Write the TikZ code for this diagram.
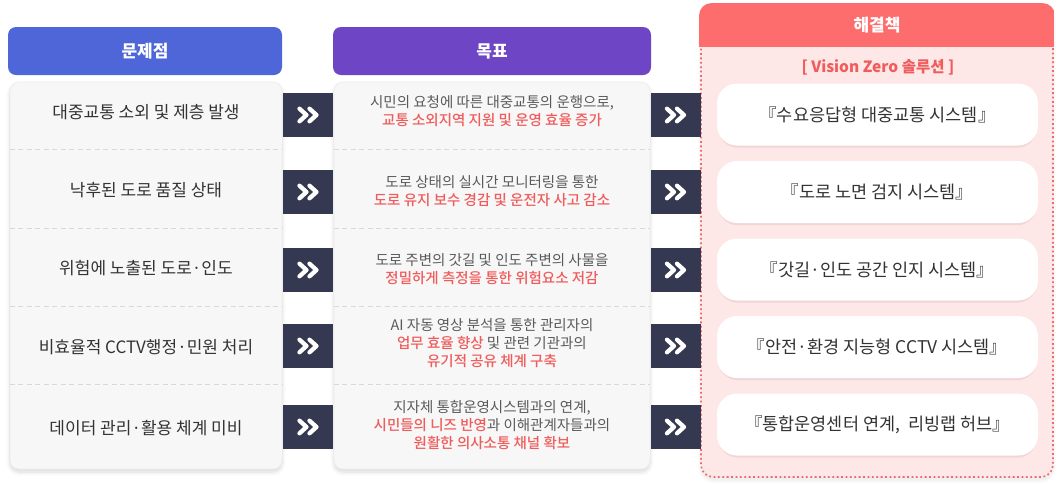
\documentclass[tikz,border=0pt]{standalone}
\usepackage{fontspec}
\setmainfont{Noto Sans CJK KR}
\newfontfamily\medfont{Noto Sans CJK KR Medium}
\usetikzlibrary{shadows.blur}
\definecolor{hblue}{HTML}{4E66D8}
\definecolor{hpurple}{HTML}{6D45C5}
\definecolor{hred}{HTML}{FE6D6D}
\definecolor{pinkbg}{HTML}{FDE7E7}
\definecolor{dotred}{HTML}{EE6A6A}
\definecolor{navy}{HTML}{343850}
\definecolor{panelbg}{HTML}{F7F7F7}
\definecolor{panelln}{HTML}{ECECEC}
\definecolor{sepc}{HTML}{D8D8D8}
\definecolor{txtdark}{HTML}{333333}
\definecolor{txtgray}{HTML}{5A5A5A}
\definecolor{txtred}{HTML}{F05C5C}
\definecolor{shpink}{HTML}{E9C9C9}
\newcommand{\rd}[1]{{\color{txtred}\medfont #1}}
\begin{document}
\begin{tikzpicture}[x=1pt,y=-1pt,
  hdr/.style={rounded corners=8pt, text=white, minimum height=48pt, inner sep=0pt, font=\fontsize{17}{19}\selectfont\bfseries},
  panel/.style={fill=panelbg, draw=panelln, line width=0.6pt, rounded corners=9pt, minimum height=387pt, inner sep=0pt,
    blur shadow={shadow xshift=0pt, shadow yshift=-3pt, shadow blur steps=8, shadow opacity=15, shadow blur radius=4pt}},
  sep/.style={draw=sepc, line width=0.6pt, dash pattern=on 5pt off 3.5pt},
  lefttxt/.style={text=txtdark, font=\fontsize{17}{19}\selectfont, inner sep=0pt},
  midtxt/.style={text=txtgray, align=center, font=\fontsize{14.5}{18}\selectfont, inner sep=0pt},
  arrowbox/.style={fill=navy, minimum width=50pt, minimum height=44pt, inner sep=0pt},
  chev/.style={draw=white, line width=4.3pt, line cap=round, line join=round},
  solbox/.style={fill=white, rounded corners=20pt, minimum width=321pt, minimum height=62pt, inner sep=0pt,
    text=txtdark, font=\fontsize{17.5}{19}\selectfont},
  solshadow/.style={fill=shpink, rounded corners=20pt, minimum width=319pt, minimum height=62pt, inner sep=0pt, opacity=0.55}
]
\useasboundingbox (0,0) rectangle (1063,491);

% ---------- right container ----------
\node[fill=pinkbg, draw=dotred, line width=1.7pt, dash pattern=on 1.8pt off 2.6pt, rounded corners=12pt,
  minimum width=352pt, minimum height=472pt, inner sep=0pt,
  blur shadow={shadow xshift=0pt, shadow yshift=-3pt, shadow blur steps=8, shadow opacity=10, shadow blur radius=4pt}] (rc) at (877,241) {};
\begin{scope}
  \path[clip, rounded corners=12pt] ([xshift=-1pt,yshift=1pt]rc.north west) rectangle ([xshift=1pt]rc.south east);
  \fill[hred] ([xshift=-1pt,yshift=1pt]rc.north west) rectangle (1054,47);
\end{scope}
\node[text=white, font=\fontsize{17}{19}\selectfont\bfseries] (h3) at (877,25.5) {해결책};
\node[text=txtred, font=\fontsize{15.5}{17}\selectfont\bfseries] (vz) at (878,67) {[ Vision Zero 솔루션 ]};

% ---------- headers ----------
\node[hdr, fill=hblue, minimum width=274pt] (h1) at (145,51) {문제점};
\node[hdr, fill=hpurple, minimum width=318pt] (h2) at (492,51) {목표};

% ---------- panels ----------
\node[panel, minimum width=272pt] (lp) at (146,275.5) {};
\node[panel, minimum width=316pt] (mp) at (492,275.5) {};
\foreach \yy in {149,228,306,384}{
  \draw[sep] (lp.west |- 0,\yy) -- (lp.east |- 0,\yy);
  \draw[sep] (mp.west |- 0,\yy) -- (mp.east |- 0,\yy);
}

% ---------- left texts ----------
\node[lefttxt] (p1) at (146,112) {대중교통 소외 및 제층 발생};
\node[lefttxt] (p2) at (146,190) {낙후된 도로 품질 상태};
\node[lefttxt] (p3) at (146,268) {위험에 노출된 도로·인도};
\node[lefttxt] (p4) at (146,347) {비효율적 CCTV행정·민원 처리};
\node[lefttxt] (p5) at (146,428) {데이터 관리·활용 체계 미비};

% ---------- middle texts ----------
\node[midtxt] (g1) at (492,111.5) {시민의 요청에 따른 대중교통의 운행으로,\\\rd{교통 소외지역 지원 및 운영 효율 증가}};
\node[midtxt] (g2) at (492,191) {도로 상태의 실시간 모니터링을 통한\\\rd{도로 유지 보수 경감 및 운전자 사고 감소}};
\node[midtxt] (g3) at (492,269) {도로 주변의 갓길 및 인도 주변의 사물을\\\rd{정밀하게 측정을 통한 위험요소 저감}};
\node[midtxt] (g4) at (492,343) {AI 자동 영상 분석을 통한 관리자의\\\rd{업무 효율 향상} 및 관련 기관과의\\\rd{유기적 공유 체계 구축}};
\node[midtxt] (g5) at (492,425) {지자체 통합운영시스템과의 연계,\\\rd{시민들의 니즈 반영}과 이해관계자들과의\\\rd{원활한 의사소통 채널 확보}};

% ---------- solution boxes ----------
\foreach \yy in {114.5,192,269.5,347,424.5}{
  \node[solshadow] at (877.5,\yy+2.2) {};
}
\node[solbox] (s1) at (877.5,114.5) {『수요응답형 대중교통 시스템』};
\node[solbox] (s2) at (877.5,192) {『도로 노면 검지 시스템』};
\node[solbox] (s3) at (877.5,269.5) {『갓길·인도 공간 인지 시스템』};
\node[solbox] (s4) at (877.5,347) {『안전·환경 지능형 CCTV 시스템』};
\node[solbox] (s5) at (877.5,424.5) {『통합운영센터 연계, \ 리빙랩 허브』};

% ---------- arrow boxes ----------
\foreach \i/\yy in {1/115,2/192,3/270,4/346,5/427}{
  \node[arrowbox] (a\i) at (308,\yy) {};
  \node[arrowbox] (b\i) at (675.5,\yy) {};
  \foreach \n in {a\i,b\i}{
    \draw[chev] ([xshift=-8.5pt,yshift=6.3pt]\n.center) -- ([xshift=-1.5pt]\n.center) -- ([xshift=-8.5pt,yshift=-6.3pt]\n.center);
    \draw[chev] ([xshift=1.5pt,yshift=6.3pt]\n.center) -- ([xshift=8.5pt]\n.center) -- ([xshift=1.5pt,yshift=-6.3pt]\n.center);
  }
}
\end{tikzpicture}
\end{document}
